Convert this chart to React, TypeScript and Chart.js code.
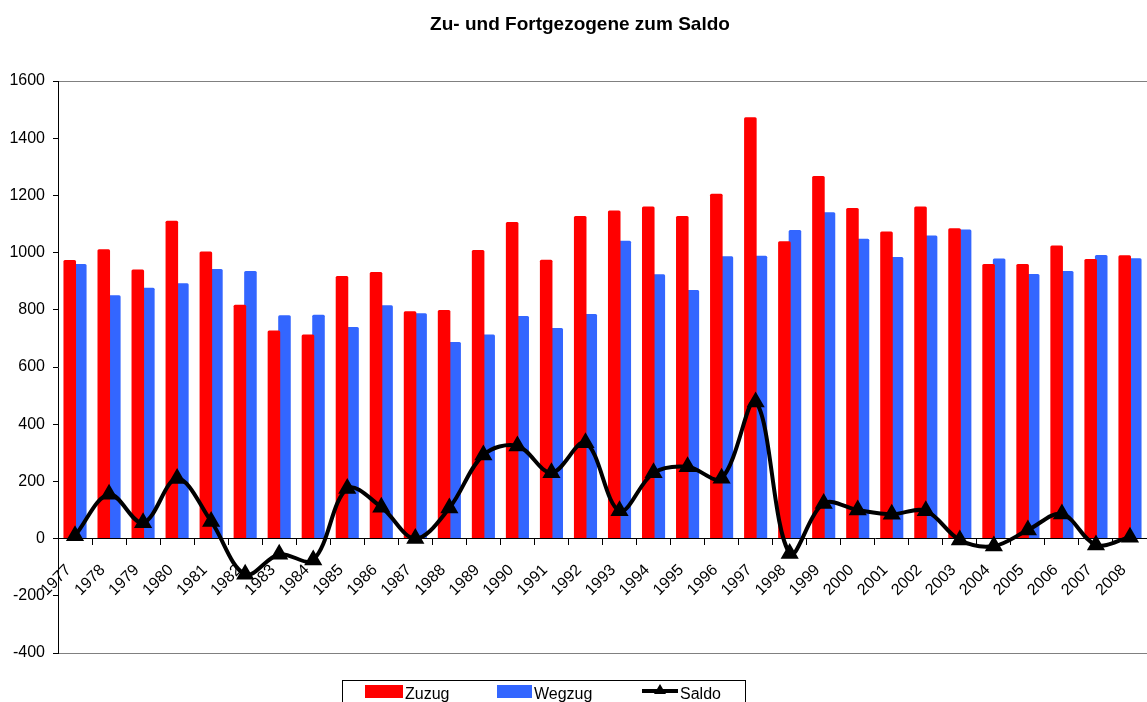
import React, { useEffect, useRef } from "react";
import { Chart, registerables } from "chart.js";

Chart.register(...registerables);

const years = [
  "1977", "1978", "1979", "1980", "1981", "1982", "1983", "1984", "1985", "1986", "1987",
  "1988", "1989", "1990", "1991", "1992", "1993", "1994", "1995", "1996", "1997", "1998",
  "1999", "2000", "2001", "2002", "2003", "2004", "2005", "2006", "2007", "2008",
];
const zuzug = [
  974, 1012, 941, 1111, 1004, 818, 728, 714, 918, 932, 795, 799, 1009, 1107, 975, 1128,
  1147, 1161, 1128, 1206, 1473, 1040, 1268, 1156, 1074, 1161, 1085, 960, 960, 1025, 978, 991,
];
const wegzug = [
  960, 851, 877, 893, 943, 936, 781, 783, 740, 816, 788, 687, 714, 778, 736, 785,
  1041, 924, 869, 987, 989, 1079, 1141, 1048, 985, 1060, 1081, 979, 925, 936, 992, 980,
];
const saldo = [
  10, 155, 55, 210, 60, -125, -55, -75, 175, 110, 0, 107, 292, 324, 230, 335,
  97, 230, 251, 211, 478, -52, 123, 100, 85, 97, -5, -26, 30, 86, -22, 5,
];
const yTicks = { min: -400, max: 1600, step: 200 };
const titleText = "Zu- und Fortgezogene zum Saldo";
const seriesNames = ["Zuzug", "Wegzug", "Saldo"];

const FONT = '"Liberation Sans", Arial, sans-serif';
const RED = "#FF0000";
const BLUE = "#3366FF";

export default function App() {
  const ref = useRef<HTMLCanvasElement>(null);

  useEffect(() => {
    const canvas = ref.current!;
    const overlay = {
      id: "overlay",
      afterDraw(chart: any) {
        const ctx = chart.ctx;
        ctx.save();
        // title
        ctx.fillStyle = "#000";
        ctx.font = `bold 19px ${FONT}`;
        ctx.textAlign = "center";
        ctx.textBaseline = "alphabetic";
        ctx.fillText(titleText, 580, 30);
        // legend box
        ctx.strokeStyle = "#000";
        ctx.lineWidth = 1;
        ctx.strokeRect(342.5, 680.5, 403, 30);
        ctx.font = `16px ${FONT}`;
        ctx.textAlign = "left";
        ctx.fillStyle = RED;
        ctx.fillRect(365, 685, 38, 13);
        ctx.fillStyle = "#000";
        ctx.fillText(seriesNames[0], 405, 699);
        ctx.fillStyle = BLUE;
        ctx.fillRect(497, 685, 35, 13);
        ctx.fillStyle = "#000";
        ctx.fillText(seriesNames[1], 534, 699);
        ctx.beginPath();
        ctx.lineWidth = 4;
        ctx.moveTo(642, 691);
        ctx.lineTo(678, 691);
        ctx.stroke();
        ctx.beginPath();
        ctx.moveTo(660, 684);
        ctx.lineTo(666, 694);
        ctx.lineTo(654, 694);
        ctx.closePath();
        ctx.fill();
        ctx.fillText(seriesNames[2], 680, 699);
        ctx.restore();
      },
    };

    const barCommon = { categoryPercentage: 0.62, barPercentage: 1.19, order: 1, borderRadius: 1.5 };

    const chart = new Chart(canvas, {
      type: "bar",
      data: {
        labels: years,
        datasets: [
          {
            type: "line",
            label: seriesNames[2],
            data: saldo,
            borderColor: "#000",
            backgroundColor: "#000",
            borderWidth: 4,
            pointStyle: "triangle",
            pointRadius: 6.5,
            pointBackgroundColor: "#000",
            pointBorderColor: "#000",
            tension: 0.35,
            order: 0,
            clip: false,
          } as any,
          { label: seriesNames[0], data: zuzug, backgroundColor: RED, ...barCommon },
          { label: seriesNames[1], data: wegzug, backgroundColor: BLUE, ...barCommon },
        ],
      },
      options: {
        responsive: false,
        animation: false,
        layout: { autoPadding: false, padding: { top: 81, bottom: 49, left: 0, right: 0 } },
        plugins: {
          legend: { display: false },
          title: { display: false },
          tooltip: { enabled: false },
        },
        scales: {
          x: {
            type: "category",
            position: { y: 0 } as any,
            offset: true,
            grid: {
              offset: true,
              drawOnChartArea: false,
              drawTicks: true,
              tickLength: 6,
              color: "#000",
              tickColor: "#000",
            },
            border: { display: true, color: "#000", width: 1 },
            ticks: {
              minRotation: 45,
              maxRotation: 45,
              autoSkip: false,
              color: "#000",
              padding: 10,
              font: { family: FONT, size: 16 },
              callback: (_v: any, i: number) => years[i] + "  ",
            },
            afterFit: (s: any) => {
              s.paddingLeft = 0;
              s.paddingRight = 0;
            },
          },
          y: {
            min: yTicks.min,
            max: yTicks.max,
            ticks: {
              stepSize: yTicks.step,
              color: "#000",
              padding: 8,
              font: { family: FONT, size: 16 },
              callback: (v: any) => String(v),
            },
            grid: {
              color: (c: any) =>
                c.tick && (c.tick.value === yTicks.max || c.tick.value === yTicks.min)
                  ? "#808080"
                  : "rgba(0,0,0,0)",
              tickColor: "#000",
              tickLength: 5,
              drawTicks: true,
            },
            border: { display: true, color: "#000", width: 1 },
            afterFit: (s: any) => {
              s.width = 58;
            },
          },
        },
      },
      plugins: [overlay],
    });
    return () => chart.destroy();
  }, []);

  return (
    <div style={{ position: "fixed", left: 0, top: 0, width: 1147, height: 702, background: "#fff" }}>
      <canvas ref={ref} width={1147} height={702} style={{ display: "block" }} />
    </div>
  );
}
